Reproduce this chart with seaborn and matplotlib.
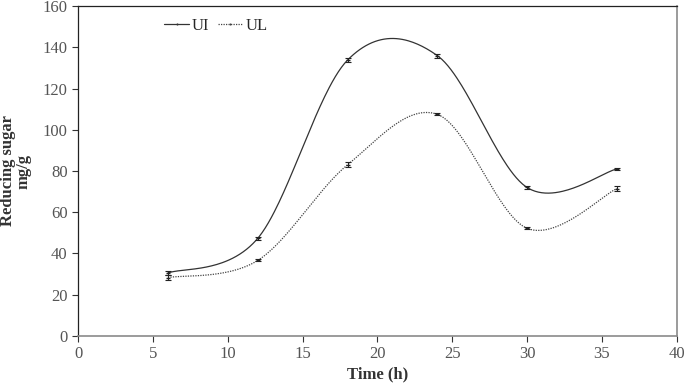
import numpy as np
import pandas as pd
import matplotlib
matplotlib.use('Agg')
import matplotlib.pyplot as plt
import seaborn as sns

# data
time_h = [6, 12, 18, 24, 30, 36]
ui_vals = [30.5, 47.3, 133.8, 136.0, 72.0, 81.0]
ul_vals = [28.3, 36.6, 83.0, 107.5, 52.2, 71.5]
ui_err = [1.0, 0.8, 1.0, 1.0, 0.5, 0.5]
ul_err = [1.2, 0.5, 1.2, 0.5, 0.5, 1.3]


def smooth(xs, ys, n=60):
    # Excel-style smoothed line: cubic Bezier with control points at 1/6 of neighbour chord
    xs = np.asarray(xs, float); ys = np.asarray(ys, float)
    P = np.column_stack([xs, ys])
    out = []
    for i in range(len(P) - 1):
        p0 = P[i - 1] if i > 0 else P[i]
        p1, p2 = P[i], P[i + 1]
        p3 = P[i + 2] if i + 2 < len(P) else P[i + 1]
        c1 = p1 + (p2 - p0) / 6
        c2 = p2 - (p3 - p1) / 6
        t = np.linspace(0, 1, n)[:, None]
        seg = (1 - t) ** 3 * p1 + 3 * (1 - t) ** 2 * t * c1 + 3 * (1 - t) * t ** 2 * c2 + t ** 3 * p2
        out.append(seg if i == 0 else seg[1:])
    seg = np.vstack(out)
    return seg[:, 0], seg[:, 1]


sns.set_style('ticks')
plt.rcParams['font.family'] = ['Liberation Serif', 'DejaVu Serif']

fig = plt.figure(figsize=(6.85, 3.83), dpi=100)
ax = fig.add_axes([0.114, 0.123, 0.874, 0.861])

rows = []
for name, vals in [('UI', ui_vals), ('UL', ul_vals)]:
    sx, sy = smooth(time_h, vals)
    rows.append(pd.DataFrame({'x': sx, 'y': sy, 'series': name}))
df = pd.concat(rows, ignore_index=True)

sns.lineplot(data=df, x='x', y='y', hue='series', style='series', sort=False,
             palette={'UI': '#333333', 'UL': '#444444'},
             dashes={'UI': '', 'UL': (1, 1)}, lw=0.9, ax=ax, legend=False)

ax.errorbar(time_h, ui_vals, yerr=ui_err, fmt='none', ecolor='#222222',
            elinewidth=0.8, capsize=2, capthick=0.8)
ax.errorbar(time_h, ul_vals, yerr=ul_err, fmt='none', ecolor='#222222',
            elinewidth=0.8, capsize=2, capthick=0.8)
ax.plot(time_h, ui_vals, ls='none', marker='_', ms=3, color='#222222')
ax.plot(time_h, ul_vals, ls='none', marker='_', ms=3, color='#222222')

# legend handles
ax.plot([], [], color='#333333', lw=0.9, marker='|', ms=2, label='UI')
ax.plot([], [], color='#444444', lw=0.9, ls=(0, (1, 1)), marker='|', ms=2, label='UL')
ax.legend(loc='upper left', bbox_to_anchor=(0.133, 0.985), ncol=2, frameon=False,
          fontsize=12, handlelength=1.5, handletextpad=0.15, columnspacing=0.5,
          borderaxespad=0)

ax.set_xlim(0, 40)
ax.set_ylim(0, 160)
ax.set_xticks(range(0, 41, 5))
ax.set_yticks(range(0, 161, 20))
ax.tick_params(axis='both', labelsize=12, labelcolor='#555555', color='#333333',
               direction='out', length=4, width=0.8)
for sp in ['left', 'top']:
    ax.spines[sp].set_color('#222222')
    ax.spines[sp].set_linewidth(0.9)
for sp in ['bottom', 'right']:
    ax.spines[sp].set_color('#8a8a8a')
    ax.spines[sp].set_linewidth(1.2)
ax.spines['top'].set_visible(True)
ax.spines['right'].set_visible(True)

ax.set_xlabel('Time (h)', fontsize=12, fontweight='bold', color='#333333', labelpad=3)
ax.set_ylabel('Reducing sugar\nmg/g', fontsize=12, fontweight='bold', color='#333333',
              labelpad=8, linespacing=0.95)

fig.savefig('out.png', dpi=100)
